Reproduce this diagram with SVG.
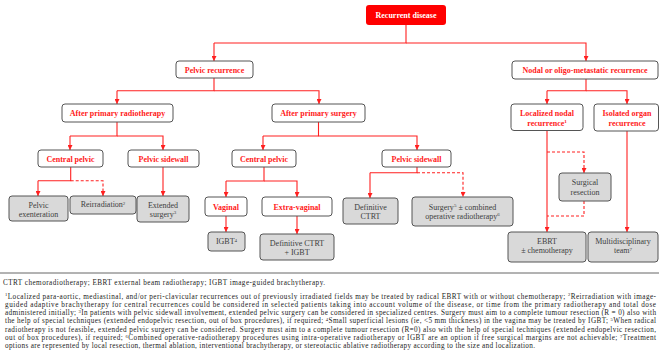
<svg xmlns="http://www.w3.org/2000/svg" width="659" height="351" viewBox="0 0 659 351">
<defs>
<style>
.hb{fill:#fff;stroke:#555;stroke-width:1}
.gb{fill:#d9d9d9;stroke:#555;stroke-width:1}
.ht{font-family:"Liberation Serif","Times New Roman",serif;font-weight:bold;font-size:8px;fill:#ff1a1a;text-anchor:middle}
.gt{font-family:"Liberation Serif","Times New Roman",serif;font-size:8px;fill:#404040;text-anchor:middle}
.fn{font-family:"Liberation Serif","Times New Roman",serif;font-size:7.2px;fill:#222}
.c{fill:none;stroke:#ff2020;stroke-width:1.1}
.d{fill:none;stroke:#ff2020;stroke-width:1.1;stroke-dasharray:3,2}
.a{marker-end:url(#ar)}
</style>
<marker id="ar" viewBox="0 0 6 6" refX="6" refY="3" markerWidth="5" markerHeight="5" markerUnits="userSpaceOnUse" orient="auto">
<path d="M0,0 L6,3 L0,6 z" fill="#ff2020"/>
</marker>
</defs>

<g id="connectors">
<path class="c" d="M406,25 V43 H214"/>
<path class="c a" d="M214,43 V61"/>
<path class="c a" d="M406,43 H586 V61"/>
<path class="c" d="M214,78 V90.7 H117"/>
<path class="c a" d="M117,90.7 V104"/>
<path class="c a" d="M214,90.7 H319 V104"/>
<path class="c" d="M586,79 V90.7 H547"/>
<path class="c a" d="M547,90.7 V104"/>
<path class="c a" d="M586,90.7 H627 V104"/>
<path class="c" d="M117,122 V136 H70"/>
<path class="c a" d="M70,136 V150"/>
<path class="c a" d="M117,136 H163 V150"/>
<path class="c" d="M70.7,167 V180.7 H38"/>
<path class="c a" d="M38,180.7 V196"/>
<path class="d a" d="M70.7,180.7 H103 V196"/>
<path class="c a" d="M163,167 V196"/>
<path class="c" d="M318.5,122 V136 H263"/>
<path class="c a" d="M263,136 V150"/>
<path class="c a" d="M318.5,136 H417 V150"/>
<path class="c" d="M264,167 V181 H226"/>
<path class="c a" d="M226,181 V197"/>
<path class="c a" d="M264,181 H297 V197"/>
<path class="c a" d="M226,216 V232"/>
<path class="c a" d="M297,216 V234"/>
<path class="c" d="M417,167 V172.7 H370"/>
<path class="c a" d="M370,172.7 V198"/>
<path class="d a" d="M417,172.7 H463 V197"/>
<path class="c a" d="M547,130 V232"/>
<path class="d a" d="M547,152 H584 V173"/>
<path class="d" d="M584,201 V216 H547"/>
<path class="c a" d="M627,131 V232"/>
</g>

<g id="recurrent-disease">
<rect x="366" y="5" width="80" height="20" rx="3" fill="#ff0000"/>
<text x="406" y="18" class="ht" style="fill:#fff">Recurrent disease</text>
</g>
<g id="pelvic-recurrence">
<rect class="hb" x="176" y="61" width="77" height="17" rx="3"/>
<text class="ht" x="214.5" y="72.5">Pelvic recurrence</text>
</g>
<g id="nodal">
<rect class="hb" x="512" y="61" width="146" height="18" rx="3"/>
<text class="ht" x="585" y="73">Nodal or oligo-metastatic recurrence</text>
</g>
<g id="after-rt">
<rect class="hb" x="62" y="104" width="111" height="18" rx="3"/>
<text class="ht" x="117.5" y="116">After primary radiotherapy</text>
</g>
<g id="after-surgery">
<rect class="hb" x="272" y="104" width="93" height="18" rx="3"/>
<text class="ht" x="318.5" y="116">After primary surgery</text>
</g>
<g id="localized-nodal">
<rect class="hb" x="511" y="104" width="72" height="26.5" rx="3"/>
<text class="ht" x="547" y="116">Localized nodal</text>
<text class="ht" x="547" y="125.5">recurrence<tspan font-size="5" dy="-2.5">1</tspan></text>
</g>
<g id="isolated-organ">
<rect class="hb" x="594" y="104" width="64.5" height="27" rx="3"/>
<text class="ht" x="627" y="116">Isolated organ</text>
<text class="ht" x="627" y="125.5">recurrence</text>
</g>
<g id="central-pelvic-1">
<rect class="hb" x="38" y="150" width="65" height="17" rx="3"/>
<text class="ht" x="70.5" y="161.5">Central pelvic</text>
</g>
<g id="pelvic-sidewall-1">
<rect class="hb" x="128" y="150" width="71" height="17" rx="3"/>
<text class="ht" x="163.5" y="161.5">Pelvic sidewall</text>
</g>
<g id="central-pelvic-2">
<rect class="hb" x="232" y="150" width="64" height="17" rx="3"/>
<text class="ht" x="264" y="161.5">Central pelvic</text>
</g>
<g id="pelvic-sidewall-2">
<rect class="hb" x="382" y="150" width="69" height="17" rx="3"/>
<text class="ht" x="416.5" y="161.5">Pelvic sidewall</text>
</g>
<g id="pelvic-exenteration">
<rect class="gb" x="9" y="196" width="59" height="25" rx="3"/>
<text class="gt" x="38.5" y="207.5">Pelvic</text>
<text class="gt" x="38.5" y="216.5">exenteration</text>
</g>
<g id="reirradiation">
<rect class="gb" x="70" y="196" width="66" height="18" rx="3"/>
<text class="gt" x="103" y="207">Reirradiation<tspan font-size="5" dy="-2.5">2</tspan></text>
</g>
<g id="extended-surgery">
<rect class="gb" x="137" y="196" width="52" height="26" rx="3"/>
<text class="gt" x="163" y="207.5">Extended</text>
<text class="gt" x="163" y="216.5">surgery<tspan font-size="5" dy="-2.5">3</tspan></text>
</g>
<g id="vaginal">
<rect class="hb" x="205" y="197" width="42" height="19" rx="3"/>
<text class="ht" x="226" y="209.5">Vaginal</text>
</g>
<g id="extra-vaginal">
<rect class="hb" x="262" y="197" width="70" height="19" rx="3"/>
<text class="ht" x="297" y="209.5">Extra-vaginal</text>
</g>
<g id="igbt">
<rect class="gb" x="208" y="232" width="37" height="19" rx="3"/>
<text class="gt" x="226.5" y="244">IGBT<tspan font-size="5" dy="-2.5">4</tspan></text>
</g>
<g id="definitive-ctrt-igbt">
<rect class="gb" x="260" y="234" width="74" height="26" rx="3"/>
<text class="gt" x="297" y="246">Definitive CTRT</text>
<text class="gt" x="297" y="255">+ IGBT</text>
</g>
<g id="definitive-ctrt">
<rect class="gb" x="343" y="198" width="55" height="26" rx="3"/>
<text class="gt" x="370.5" y="210">Definitive</text>
<text class="gt" x="370.5" y="218.5">CTRT</text>
</g>
<g id="surgery-combined">
<rect class="gb" x="412" y="197" width="101" height="29" rx="3"/>
<text class="gt" x="462.5" y="209.5">Surgery<tspan font-size="5" dy="-2.5">5</tspan><tspan dy="2.5"> ± combined</tspan></text>
<text class="gt" x="462.5" y="218.5">operative radiotherapy<tspan font-size="5" dy="-2.5">6</tspan></text>
</g>
<g id="surgical-resection">
<rect class="gb" x="559" y="173" width="52" height="28" rx="3"/>
<text class="gt" x="585" y="185">Surgical</text>
<text class="gt" x="585" y="194.5">resection</text>
</g>
<g id="ebrt">
<rect class="gb" x="508" y="232" width="78" height="30" rx="3"/>
<text class="gt" x="547" y="244">EBRT</text>
<text class="gt" x="547" y="253">± chemotherapy</text>
</g>
<g id="multidisciplinary">
<rect class="gb" x="588" y="232" width="70" height="30" rx="3"/>
<text class="gt" x="623" y="244">Multidisciplinary</text>
<text class="gt" x="623" y="253">team<tspan font-size="5" dy="-2.5">7</tspan></text>
</g>

<line x1="0" y1="273" x2="659" y2="273" stroke="#666" stroke-width="1"/>

<g id="footnotes" class="fn">
<text x="3" y="284.5" textLength="322" lengthAdjust="spacing">CTRT chemoradiotherapy; EBRT external beam radiotherapy; IGBT image-guided brachytherapy.</text>
<text x="5" y="298.5" textLength="651" lengthAdjust="spacing"><tspan font-size="4.6" dy="-2.2">1</tspan><tspan dy="2.2">Localized para-aortic, mediastinal, and/or peri-clavicular recurrences out of previously irradiated fields may be treated by radical EBRT with or without chemotherapy; </tspan><tspan font-size="4.6" dy="-2.2">2</tspan><tspan dy="2.2">Reirradiation with image-</tspan></text>
<text x="5" y="306.8" textLength="651" lengthAdjust="spacing">guided adaptive brachytherapy for central recurrences could be considered in selected patients taking into account volume of the disease, or time from the primary radiotherapy and total dose</text>
<text x="5" y="315.1" textLength="651" lengthAdjust="spacing">administered initially; <tspan font-size="4.6" dy="-2.2">3</tspan><tspan dy="2.2">In patients with pelvic sidewall involvement, extended pelvic surgery can be considered in specialized centres. Surgery must aim to a complete tumour resection (R = 0) also with</tspan></text>
<text x="5" y="323.4" textLength="651" lengthAdjust="spacing">the help of special techniques (extended endopelvic resection, out of box procedures), if required; <tspan font-size="4.6" dy="-2.2">4</tspan><tspan dy="2.2">Small superficial lesions (ie, &lt;5 mm thickness) in the vagina may be treated by IGBT; </tspan><tspan font-size="4.6" dy="-2.2">5</tspan><tspan dy="2.2">When radical</tspan></text>
<text x="5" y="331.7" textLength="651" lengthAdjust="spacing">radiotherapy is not feasible, extended pelvic surgery can be considered. Surgery must aim to a complete tumour resection (R=0) also with the help of special techniques (extended endopelvic resection,</text>
<text x="5" y="340" textLength="651" lengthAdjust="spacing">out of box procedures), if required; <tspan font-size="4.6" dy="-2.2">6</tspan><tspan dy="2.2">Combined operative-radiotherapy procedures using intra-operative radiotherapy or IGBT are an option if free surgical margins are not achievable; </tspan><tspan font-size="4.6" dy="-2.2">7</tspan><tspan dy="2.2">Treatment</tspan></text>
<text x="5" y="348.3" textLength="530" lengthAdjust="spacing">options are represented by local resection, thermal ablation, interventional brachytherapy, or stereotactic ablative radiotherapy according to the size and localization.</text>
</g>
</svg>
